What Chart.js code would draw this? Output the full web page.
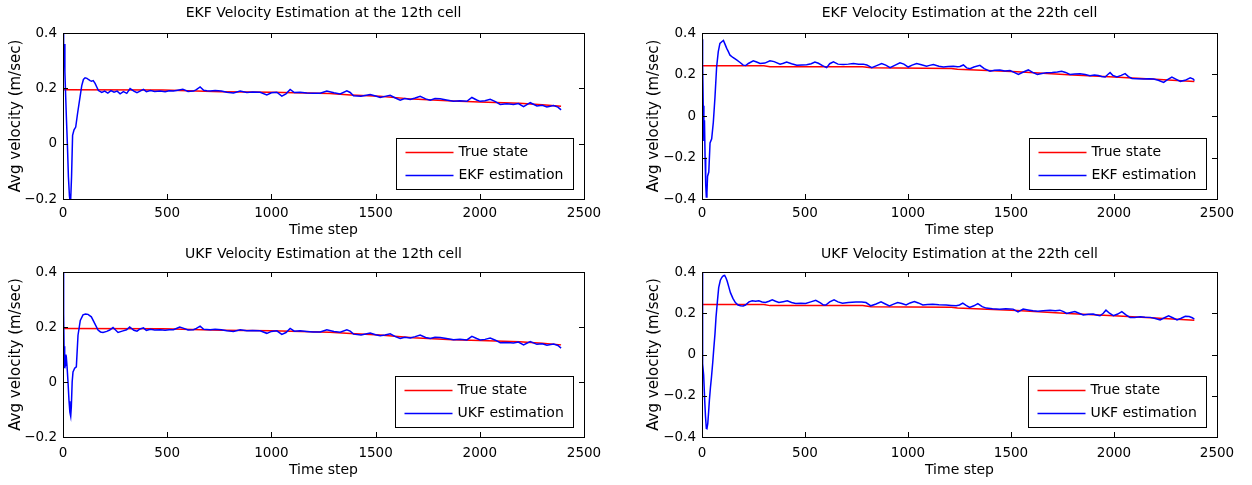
<!DOCTYPE html>
<html>
<head>
<meta charset="utf-8">
<script src="https://cdn.jsdelivr.net/npm/chart.js@4.4.0/dist/chart.umd.min.js"></script>
<style>
  body { margin: 0; background: #fff; width: 1252px; height: 485px; overflow: hidden; }
  canvas { position: absolute; }
</style>
</head>
<body>
<canvas id="ekf12" width="626" height="242" style="left:0;top:0"></canvas>
<canvas id="ekf22" width="612" height="242" style="left:640px;top:0"></canvas>
<canvas id="ukf12" width="626" height="243" style="left:0;top:242px"></canvas>
<canvas id="ukf22" width="612" height="243" style="left:640px;top:242px"></canvas>
<script>
// true state of the two cells (same for EKF and UKF)
const true12T = [0, 480, 760, 1000, 1280, 1380, 1520, 1680, 1870, 2000, 2190, 2300, 2390]
const true12V = [0.195, 0.194, 0.188, 0.186, 0.181, 0.176, 0.171, 0.161, 0.154, 0.151, 0.146, 0.141, 0.135]
const true22T = [0, 300, 330, 780, 820, 1210, 1240, 1530, 1800, 2000, 2200, 2390]
const true22V = [0.242, 0.242, 0.237, 0.237, 0.232, 0.229, 0.225, 0.213, 0.198, 0.188, 0.177, 0.166]

// EKF estimate, 12th cell
const ekf12T = [0, 3, 6, 9, 12, 16, 21, 26, 31, 36, 41, 46, 53, 61, 70, 82, 90, 98, 106, 115, 122, 130, 137, 145, 154, 162, 170, 186, 200, 215, 230, 245, 260, 274, 290, 306, 322, 340, 355, 370, 386, 400, 420, 440, 466, 490, 510, 530, 550, 575, 600, 626, 640, 658, 675, 690, 706, 730, 760, 786, 818, 850, 882, 910, 946, 978, 1000, 1026, 1050, 1070, 1090, 1110, 1138, 1170, 1200, 1234, 1266, 1300, 1330, 1362, 1378, 1394, 1430, 1474, 1500, 1522, 1545, 1570, 1595, 1618, 1640, 1666, 1690, 1714, 1740, 1762, 1785, 1810, 1840, 1874, 1905, 1938, 1962, 1985, 2002, 2025, 2050, 2075, 2098, 2130, 2162, 2185, 2210, 2242, 2274, 2300, 2322, 2354, 2375, 2390]
const ekf12V = [0.40, 0.30, 0.36, 0.26, 0.19, 0.10, 0.00, -0.12, -0.19, -0.22, -0.12, 0.03, 0.05, 0.06, 0.11, 0.17, 0.21, 0.232, 0.238, 0.236, 0.232, 0.228, 0.226, 0.228, 0.218, 0.205, 0.192, 0.185, 0.19, 0.183, 0.192, 0.186, 0.19, 0.18, 0.188, 0.182, 0.199, 0.19, 0.184, 0.19, 0.196, 0.188, 0.192, 0.189, 0.19, 0.188, 0.191, 0.19, 0.193, 0.197, 0.189, 0.19, 0.195, 0.205, 0.193, 0.191, 0.19, 0.192, 0.19, 0.186, 0.183, 0.19, 0.185, 0.187, 0.186, 0.176, 0.184, 0.186, 0.172, 0.18, 0.196, 0.185, 0.186, 0.183, 0.182, 0.182, 0.19, 0.184, 0.18, 0.191, 0.185, 0.173, 0.171, 0.178, 0.172, 0.167, 0.171, 0.175, 0.165, 0.157, 0.163, 0.16, 0.165, 0.171, 0.162, 0.157, 0.163, 0.162, 0.158, 0.153, 0.155, 0.153, 0.167, 0.158, 0.153, 0.155, 0.16, 0.152, 0.142, 0.144, 0.142, 0.145, 0.134, 0.148, 0.136, 0.139, 0.133, 0.138, 0.132, 0.122]

// UKF estimate, 12th cell
const ukf12T = [0, 3, 5, 8, 11, 14, 17, 20, 24, 29, 33, 37, 40, 44, 48, 56, 64, 72, 83, 96, 108, 120, 136, 152, 168, 180, 192, 210, 224, 240, 264, 288, 305, 320, 340, 355, 370, 386, 400, 420, 440, 466, 490, 510, 530, 560, 580, 600, 626, 640, 658, 675, 690, 706, 730, 760, 786, 818, 850, 882, 910, 946, 978, 1000, 1026, 1050, 1070, 1090, 1110, 1138, 1170, 1200, 1234, 1266, 1300, 1330, 1362, 1378, 1394, 1430, 1474, 1500, 1522, 1545, 1570, 1595, 1618, 1640, 1666, 1690, 1714, 1740, 1762, 1785, 1810, 1840, 1874, 1905, 1938, 1962, 1985, 2002, 2025, 2050, 2075, 2098, 2130, 2162, 2185, 2210, 2242, 2274, 2300, 2322, 2354, 2375, 2390]
const ukf12V = [0.40, 0.25, 0.13, 0.05, 0.10, 0.07, 0.08, 0.05, 0.00, -0.07, -0.11, -0.125, -0.09, 0.00, 0.037, 0.05, 0.055, 0.17, 0.224, 0.244, 0.247, 0.246, 0.237, 0.213, 0.189, 0.182, 0.18, 0.184, 0.189, 0.198, 0.18, 0.186, 0.19, 0.2, 0.188, 0.185, 0.193, 0.197, 0.188, 0.192, 0.189, 0.19, 0.188, 0.19, 0.19, 0.2, 0.195, 0.189, 0.19, 0.195, 0.203, 0.192, 0.191, 0.19, 0.192, 0.19, 0.186, 0.184, 0.19, 0.186, 0.187, 0.186, 0.177, 0.184, 0.186, 0.173, 0.18, 0.195, 0.185, 0.186, 0.184, 0.182, 0.182, 0.19, 0.184, 0.181, 0.19, 0.185, 0.174, 0.171, 0.178, 0.172, 0.168, 0.171, 0.175, 0.165, 0.158, 0.163, 0.16, 0.165, 0.171, 0.162, 0.158, 0.163, 0.162, 0.158, 0.154, 0.155, 0.153, 0.166, 0.158, 0.153, 0.155, 0.16, 0.152, 0.143, 0.144, 0.142, 0.145, 0.135, 0.147, 0.137, 0.139, 0.134, 0.138, 0.133, 0.123]

// EKF estimate, 22th cell
const ekf22T = [0, 3, 6, 9, 12, 15, 18, 21, 24, 27, 33, 39, 47, 55, 63, 71, 79, 87, 96, 104, 112, 120, 128, 136, 150, 168, 185, 200, 212, 225, 249, 265, 282, 305, 330, 350, 379, 395, 411, 435, 460, 485, 508, 530, 548, 565, 585, 605, 620, 638, 660, 686, 710, 735, 760, 783, 800, 824, 848, 872, 892, 913, 938, 961, 980, 1001, 1020, 1042, 1065, 1090, 1105, 1123, 1150, 1172, 1195, 1220, 1240, 1252, 1269, 1285, 1301, 1320, 1349, 1370, 1398, 1420, 1446, 1470, 1495, 1515, 1536, 1560, 1584, 1605, 1628, 1650, 1673, 1700, 1725, 1746, 1765, 1786, 1810, 1835, 1860, 1883, 1905, 1924, 1940, 1957, 1970, 1981, 1995, 2014, 2035, 2054, 2070, 2087, 2110, 2143, 2170, 2192, 2215, 2241, 2260, 2281, 2300, 2322, 2345, 2370, 2385, 2390]
const ekf22V = [0.37, 0.25, 0.05, -0.12, -0.02, -0.20, -0.33, -0.39, -0.37, -0.29, -0.27, -0.13, -0.11, -0.03, 0.09, 0.236, 0.31, 0.35, 0.358, 0.364, 0.345, 0.326, 0.31, 0.293, 0.282, 0.27, 0.258, 0.245, 0.243, 0.253, 0.266, 0.26, 0.253, 0.255, 0.266, 0.262, 0.25, 0.254, 0.26, 0.252, 0.245, 0.246, 0.247, 0.252, 0.26, 0.254, 0.243, 0.233, 0.252, 0.261, 0.25, 0.248, 0.25, 0.253, 0.25, 0.25, 0.246, 0.233, 0.243, 0.253, 0.245, 0.233, 0.245, 0.256, 0.25, 0.236, 0.245, 0.253, 0.247, 0.24, 0.244, 0.248, 0.24, 0.236, 0.238, 0.24, 0.237, 0.239, 0.246, 0.232, 0.228, 0.236, 0.244, 0.228, 0.216, 0.22, 0.222, 0.217, 0.219, 0.21, 0.2, 0.212, 0.222, 0.21, 0.2, 0.205, 0.209, 0.21, 0.212, 0.216, 0.21, 0.2, 0.202, 0.204, 0.2, 0.194, 0.197, 0.195, 0.19, 0.188, 0.2, 0.209, 0.195, 0.188, 0.196, 0.204, 0.19, 0.181, 0.18, 0.178, 0.18, 0.178, 0.172, 0.162, 0.175, 0.188, 0.178, 0.167, 0.172, 0.184, 0.178, 0.17]

// UKF estimate, 22th cell
const ukf22T = [0, 2, 4, 8, 13, 17, 21, 24, 28, 32, 36, 41, 46, 52, 57, 63, 68, 75, 81, 89, 97, 104, 110, 116, 122, 130, 138, 150, 162, 175, 187, 200, 211, 228, 244, 260, 276, 292, 308, 325, 341, 357, 373, 394, 414, 435, 455, 480, 503, 528, 552, 575, 590, 601, 620, 641, 660, 682, 710, 747, 775, 796, 820, 845, 869, 890, 910, 930, 950, 970, 991, 1010, 1031, 1050, 1072, 1095, 1120, 1150, 1185, 1210, 1234, 1250, 1266, 1282, 1299, 1320, 1339, 1360, 1380, 1410, 1445, 1475, 1510, 1534, 1559, 1583, 1607, 1630, 1656, 1690, 1715, 1737, 1755, 1770, 1790, 1810, 1830, 1851, 1875, 1899, 1915, 1932, 1948, 1961, 1978, 1997, 2018, 2038, 2058, 2078, 2100, 2127, 2150, 2176, 2200, 2224, 2245, 2265, 2285, 2306, 2326, 2346, 2365, 2380, 2390]
const ukf22V = [0.40, 0.25, -0.045, -0.10, -0.22, -0.30, -0.359, -0.36, -0.335, -0.28, -0.22, -0.16, -0.11, -0.04, 0.026, 0.10, 0.18, 0.26, 0.324, 0.36, 0.375, 0.382, 0.384, 0.372, 0.356, 0.328, 0.30, 0.272, 0.252, 0.24, 0.236, 0.235, 0.24, 0.255, 0.26, 0.258, 0.26, 0.255, 0.252, 0.258, 0.265, 0.258, 0.252, 0.256, 0.26, 0.252, 0.247, 0.248, 0.247, 0.255, 0.263, 0.25, 0.24, 0.24, 0.255, 0.265, 0.255, 0.249, 0.252, 0.255, 0.254, 0.252, 0.236, 0.245, 0.255, 0.245, 0.236, 0.244, 0.252, 0.247, 0.24, 0.25, 0.257, 0.25, 0.24, 0.242, 0.244, 0.241, 0.24, 0.238, 0.236, 0.24, 0.249, 0.238, 0.228, 0.236, 0.247, 0.232, 0.225, 0.222, 0.22, 0.222, 0.22, 0.207, 0.22, 0.216, 0.212, 0.21, 0.212, 0.214, 0.212, 0.215, 0.208, 0.199, 0.204, 0.208, 0.2, 0.192, 0.195, 0.196, 0.192, 0.188, 0.2, 0.215, 0.2, 0.188, 0.196, 0.208, 0.192, 0.18, 0.18, 0.183, 0.181, 0.18, 0.175, 0.168, 0.178, 0.188, 0.178, 0.168, 0.176, 0.185, 0.184, 0.178, 0.172]

const FONT = 'DejaVu Sans'
Chart.defaults.font.family = FONT
Chart.defaults.color = '#000'

function pts(t, v) {
    return t.map((x, i) => ({ x: x, y: v[i] }))
}

function tickText(v) {
    let r = Math.round(v * 10) / 10
    if (r === 0) return '0'
    return String(r).replace('-', '\u2212')
}

// box, inward ticks on all four sides and the legend inside the axes
const matlabBox = {
    id: 'matlabBox',
    afterDraw(chart) {
        const ctx = chart.ctx
        const a = chart.chartArea
        const xs = chart.scales.x, ys = chart.scales.y
        ctx.save()
        ctx.strokeStyle = '#000'
        ctx.lineWidth = 1
        ctx.beginPath()
        xs.ticks.forEach(t => {
            const px = Math.round(xs.getPixelForValue(t.value)) + 0.5
            ctx.moveTo(px, a.bottom); ctx.lineTo(px, a.bottom - 5)
            ctx.moveTo(px, a.top); ctx.lineTo(px, a.top + 5)
        })
        ys.ticks.forEach(t => {
            const py = Math.round(ys.getPixelForValue(t.value)) + 0.5
            ctx.moveTo(a.left, py); ctx.lineTo(a.left + 5, py)
            ctx.moveTo(a.right, py); ctx.lineTo(a.right - 5, py)
        })
        ctx.stroke()
        ctx.strokeRect(Math.round(a.left) + 0.5, Math.round(a.top) + 0.5, Math.round(a.right - a.left), Math.round(a.bottom - a.top))

        ctx.font = '14px "' + FONT + '"'
        const sets = chart.data.datasets
        let tw = 0
        sets.forEach(d => { tw = Math.max(tw, ctx.measureText(d.label).width) })
        const w = Math.round(9 + 48 + 5 + tw + 10), h = 51
        const bx = Math.round(a.right - 11 - w) + 0.5
        const by = Math.round(a.bottom - 10 - h) + 0.5
        ctx.fillStyle = '#fff'
        ctx.fillRect(bx, by, w, h)
        ctx.strokeRect(bx, by, w, h)
        ctx.textBaseline = 'middle'
        ctx.lineWidth = 1.5
        sets.forEach((d, i) => {
            const ly = by + 14 + i * 23
            ctx.strokeStyle = d.borderColor
            ctx.beginPath()
            ctx.moveTo(bx + 9, ly); ctx.lineTo(bx + 57, ly)
            ctx.stroke()
            ctx.fillStyle = '#000'
            ctx.fillText(d.label, bx + 62, ly)
        })
        ctx.restore()
    }
}

function makePanel(id, title, estLabel, estT, estV, trueT, trueV, yMin, lay) {
    new Chart(document.getElementById(id), {
        type: 'line',
        data: {
            datasets: [{
                label: 'True state',
                data: pts(trueT, trueV),
                borderColor: '#ff0000',
                borderWidth: 1.5,
                pointRadius: 0,
                order: 1
            }, {
                label: estLabel,
                data: pts(estT, estV),
                borderColor: '#0000ff',
                borderWidth: 1.5,
                pointRadius: 0,
                order: 0
            }]
        },
        options: {
            responsive: false,
            animation: false,
            layout: { padding: { left: 0, right: lay.padRight, top: 0, bottom: 0 } },
            plugins: {
                legend: { display: false },
                tooltip: { enabled: false },
                title: {
                    display: true,
                    fullSize: false,
                    text: title,
                    color: '#000',
                    font: { size: 14, weight: 'normal' },
                    padding: { top: lay.titleTop, bottom: lay.titleBottom }
                }
            },
            scales: {
                x: {
                    type: 'linear',
                    min: 0,
                    max: 2500,
                    grid: { display: false, drawTicks: false },
                    border: { display: false },
                    ticks: { stepSize: 500, maxRotation: 0, padding: lay.xTickPad, font: { size: 13.5 }, callback: v => String(v) },
                    title: { display: true, text: 'Time step', font: { size: 14 }, padding: { top: 0, bottom: lay.xTitlePad } },
                    afterFit: s => { s.height = lay.xh }
                },
                y: {
                    min: yMin,
                    max: 0.4,
                    grid: { display: false, drawTicks: false },
                    border: { display: false },
                    ticks: { stepSize: 0.2, padding: 6, font: { size: 13.5 }, callback: tickText },
                    title: { display: true, text: 'Avg velocity (m/sec)', font: { size: 15 }, padding: { top: lay.yTitlePad, bottom: 0 } },
                    afterFit: s => { s.width = lay.yw }
                }
            }
        },
        plugins: [matlabBox]
    })
}

const topLeft = { yw: 63, xh: 43, padRight: 42, titleTop: 5, titleBottom: 11.2, xTickPad: 6, xTitlePad: 3.6, yTitlePad: 7 }
const topRight = { yw: 62, xh: 43, padRight: 35, titleTop: 5, titleBottom: 11.2, xTickPad: 6, xTitlePad: 3.6, yTitlePad: 5 }
const botLeft = { yw: 63, xh: 48, padRight: 42, titleTop: 4, titleBottom: 9.2, xTickPad: 8, xTitlePad: 6.6, yTitlePad: 7 }
const botRight = { yw: 62, xh: 48, padRight: 35, titleTop: 4, titleBottom: 9.2, xTickPad: 8, xTitlePad: 6.6, yTitlePad: 5 }

makePanel('ekf12', 'EKF Velocity Estimation at the 12th cell', 'EKF estimation', ekf12T, ekf12V, true12T, true12V, -0.2, topLeft)
makePanel('ekf22', 'EKF Velocity Estimation at the 22th cell', 'EKF estimation', ekf22T, ekf22V, true22T, true22V, -0.4, topRight)
makePanel('ukf12', 'UKF Velocity Estimation at the 12th cell', 'UKF estimation', ukf12T, ukf12V, true12T, true12V, -0.2, botLeft)
makePanel('ukf22', 'UKF Velocity Estimation at the 22th cell', 'UKF estimation', ukf22T, ukf22V, true22T, true22V, -0.4, botRight)
</script>
</body>
</html>
